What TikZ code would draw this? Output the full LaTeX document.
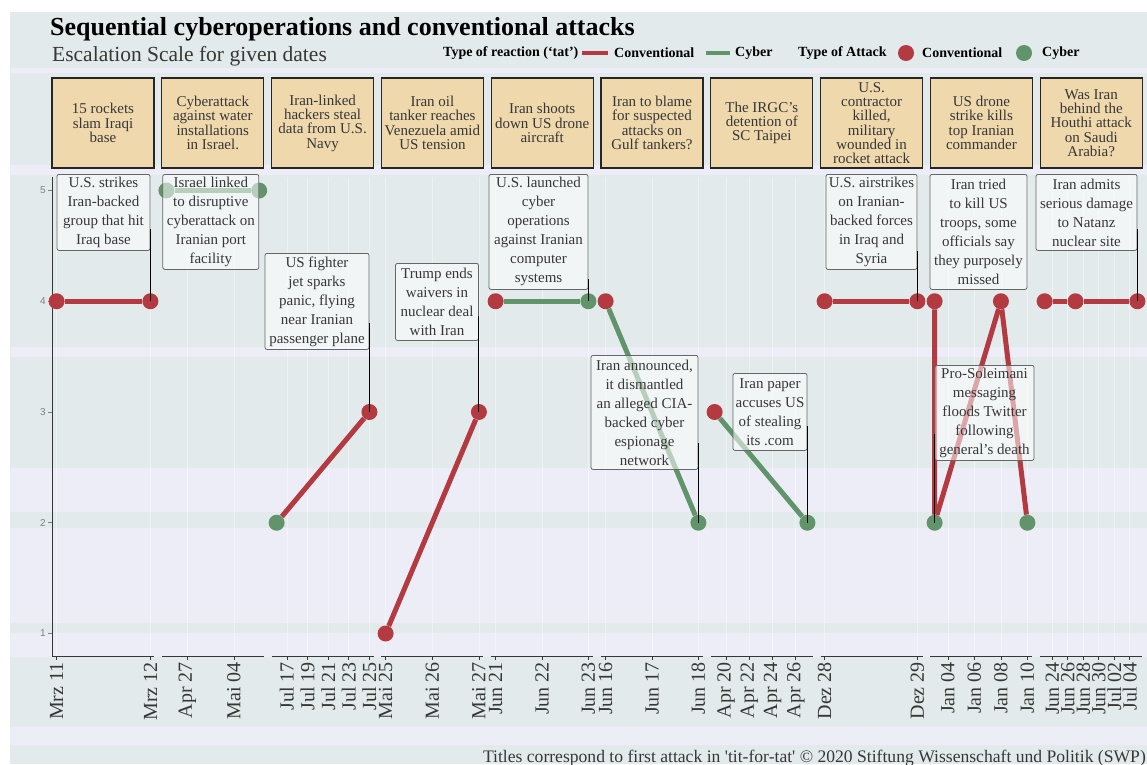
\documentclass[tikz,border=0pt]{standalone}
\usepackage{fontspec}
\setmainfont{Liberation Serif}
\setsansfont{Liberation Sans}
\definecolor{convred}{RGB}{178,58,64}
\definecolor{cybgreen}{RGB}{98,148,108}
\definecolor{headtan}{RGB}{238,216,172}
\definecolor{bga}{RGB}{226,234,236}
\definecolor{bgb}{RGB}{237,237,248}
\definecolor{inkgray}{RGB}{55,55,55}
\tikzset{
  conv/.style={draw=convred, line width=5pt},
  cyb/.style={draw=cybgreen, line width=5pt},
  cdot/.style={circle, fill=convred, minimum size=16pt, inner sep=0pt},
  gdot/.style={circle, fill=cybgreen, minimum size=16pt, inner sep=0pt},
  headbox/.style={draw=black!85, line width=1.3pt, fill=headtan, minimum width=102pt, minimum height=90pt,
    align=center, inner sep=1pt, text=inkgray, font=\fontsize{15}{14.3}\selectfont},
  labbox/.style={draw=black!60, line width=0.8pt, fill=white, fill opacity=0.55, text opacity=1,
    rounded corners=2pt, align=center, inner sep=2pt, text=inkgray, font=\fontsize{15}{19}\selectfont},
  seg/.style={draw=black, line width=0.9pt},
  datelab/.style={rotate=90, anchor=east, inner sep=0pt, text=inkgray, font=\fontsize{20}{20}\selectfont},
  legtext/.style={anchor=west, inner sep=0pt, font=\bfseries\fontsize{14}{14}\selectfont},
}
\begin{document}
\begin{tikzpicture}[x=1pt, y=-1pt]
	\useasboundingbox (0,0) rectangle (1147,764);
	%background bands
	\foreach \ya/\yb/\c in {12/68/bga, 68/73/bgb, 73/165/bga, 165/175/bgb, 175/347/bga, 347/357/bgb,
		357/468/bga, 468/512/bgb, 512/528/bga, 528/623/bgb, 623/633/bga, 633/657/bgb,
		657/727/bga, 727/745/bgb, 745/764/bga}
		\fill[\c] (10,\ya) rectangle (1147,\yb);

	%titles
	\node[anchor=base west, inner sep=0pt, font=\bfseries\fontsize{26}{26}\selectfont] (title) at (50,35)
		{Sequential cyberoperations and conventional attacks};
	\node[anchor=base west, inner sep=0pt, text=inkgray, font=\fontsize{21.5}{21.5}\selectfont] (subtitle) at (52,61)
		{Escalation Scale for given dates};

	%legend
	\node[legtext] (legR) at (443,53) {Type of reaction (`tat')};
	\draw[conv, line width=4pt] (582,53) -- (608,53);
	\node[legtext] (legRc) at (614,53) {Conventional};
	\draw[cyb, line width=4pt] (706,53) -- (730,53);
	\node[legtext] (legRg) at (735,53) {Cyber};
	\node[legtext] (legA) at (798,53) {Type of Attack};
	\node[cdot] (legAcdot) at (906,53) {};
	\node[legtext] (legAc) at (922,53) {Conventional};
	\node[gdot] (legAgdot) at (1024,53) {};
	\node[legtext] (legAg) at (1042,53) {Cyber};

	%date grid, ticks and labels
	\foreach \px/\dt [count=\k] in {56.6/Mrz 11, 150.4/Mrz 12, 187.5/Apr 27, 233.9/Mai 04,
		286.9/Jul 17, 307.5/Jul 19, 328.2/Jul 21, 348.8/Jul 23, 369.4/Jul 25,
		385.6/Mai 25, 432.3/Mai 26, 478.9/Mai 27, 495.6/Jun 21, 542/Jun 22, 588.4/Jun 23,
		605.6/Jun 16, 652/Jun 17, 698.4/Jun 18, 726.2/Apr 20, 749.4/Apr 22, 772.6/Apr 24, 795.8/Apr 26,
		824.6/Dez 28, 917.4/Dez 29, 947.9/Jan 04, 974.4/Jan 06, 1000.9/Jan 08, 1027.4/Jan 10,
		1052.3/Jun 24, 1067.8/Jun 26, 1083.3/Jun 28, 1098.7/Jun 30, 1114.2/Jul 02, 1129.7/Jul 04}
	{
		\draw[white, opacity=0.4, line width=0.8pt] (\px,177) -- (\px,656);
		\draw[inkgray, line width=0.8pt] (\px,656) -- (\px,660);
		\node[datelab] (date\k) at (\px,662) {\dt};
	}

	%axes
	\foreach \i in {0,...,9}
		\draw[inkgray, line width=1pt] ({52+109.8*\i},656) -- ({154+109.8*\i},656);
	\draw[inkgray, line width=1pt] (52,177) -- (52,656);
	\foreach \v/\yy in {1/633.5, 2/522.75, 3/412, 4/301.25, 5/190.5}
	{
		\draw[gray, line width=0.8pt] (48,\yy) -- (52,\yy);
		\node[anchor=east, inner sep=1pt, text=gray, font=\sffamily\fontsize{10}{10}\selectfont] (ytick\v) at (47,\yy) {\v};
	}

	%panel titles
	\foreach \i/\hd in {0/{15 rockets\\slam Iraqi\\base}, 1/{Cyberattack\\against water\\installations\\in Israel.},
		2/{Iran-linked\\hackers steal\\data from U.S.\\Navy}, 3/{Iran oil\\tanker reaches\\Venezuela amid\\US tension},
		4/{Iran shoots\\down US drone\\aircraft}, 5/{Iran to blame\\for suspected\\attacks on\\Gulf tankers?},
		6/{The IRGC's\\detention of\\SC Taipei}, 7/{U.S.\\contractor\\killed,\\military\\wounded in\\rocket attack},
		8/{US drone\\strike kills\\top Iranian\\commander}, 9/{Was Iran\\behind the\\Houthi attack\\on Saudi\\Arabia?}}
		\node[headbox] (h\i) at ({103+109.8*\i},123) {\hd};

	%tit-for-tat pairs
	\node[cdot] (p1a) at (56.6,301.25) {};
	\node[cdot] (p1b) at (150.4,301.25) {};
	\draw[conv] (p1a) -- (p1b);
	\node[gdot] (p2a) at (166.4,190.5) {};
	\node[gdot] (p2b) at (259.2,190.5) {};
	\draw[cyb] (p2a) -- (p2b);
	\node[gdot] (p3a) at (276.6,522.75) {};
	\node[cdot] (p3b) at (369.4,412) {};
	\draw[conv] (p3a) -- (p3b);
	\node[cdot] (p4a) at (385.6,633.5) {};
	\node[cdot] (p4b) at (478.9,412) {};
	\draw[conv] (p4a) -- (p4b);
	\node[cdot] (p5a) at (495.6,301.25) {};
	\node[gdot] (p5b) at (588.4,301.25) {};
	\draw[cyb] (p5a) -- (p5b);
	\node[cdot] (p6a) at (605.6,301.25) {};
	\node[gdot] (p6b) at (698.4,522.75) {};
	\draw[cyb] (p6a) -- (p6b);
	\node[cdot] (p7a) at (714.6,412) {};
	\node[gdot] (p7b) at (807.4,522.75) {};
	\draw[cyb] (p7a) -- (p7b);
	\node[cdot] (p8a) at (824.6,301.25) {};
	\node[cdot] (p8b) at (917.4,301.25) {};
	\draw[conv] (p8a) -- (p8b);
	\node[cdot] (p9a) at (934.6,301.25) {};
	\node[gdot] (p9b) at (934.6,522.75) {};
	\node[cdot] (p9c) at (1000.9,301.25) {};
	\node[gdot] (p9d) at (1027.4,522.75) {};
	\draw[conv] (p9a) -- (p9b) -- (p9c) -- (p9d);
	\node[cdot] (p10a) at (1044.6,301.25) {};
	\node[cdot] (p10b) at (1075.5,301.25) {};
	\node[cdot] (p10c) at (1137.4,301.25) {};
	\draw[conv] (p10a) -- (p10b) -- (p10c);

	%reaction labels
	\node[labbox, anchor=north east, minimum width=93pt, minimum height=76pt] (l1) at (150.4,174)
		{U.S. strikes\\Iran-backed\\group that hit\\Iraq base};
	\node[labbox, anchor=north east, minimum width=96pt, minimum height=95pt] (l2) at (259.2,174)
		{Israel linked\\to disruptive\\cyberattack on\\Iranian port\\facility};
	\node[labbox, anchor=north east, minimum width=104pt, minimum height=96pt] (l3) at (369.4,253)
		{US fighter\\jet sparks\\panic, flying\\near Iranian\\passenger plane};
	\node[labbox, anchor=north east, minimum width=83pt, minimum height=77pt] (l4) at (478.9,263)
		{Trump ends\\waivers in\\nuclear deal\\with Iran};
	\node[labbox, anchor=north east, minimum width=99pt, minimum height=115pt] (l5) at (588.4,174)
		{U.S. launched\\cyber\\operations\\against Iranian\\computer\\systems};
	\node[labbox, anchor=north east, minimum width=107pt, minimum height=114pt] (l6) at (698.4,355)
		{Iran announced,\\it dismantled\\an alleged CIA-\\backed cyber\\espionage\\network};
	\node[labbox, anchor=north east, minimum width=74pt, minimum height=77pt] (l7) at (807.4,373)
		{Iran paper\\accuses US\\of stealing\\its .com};
	\node[labbox, anchor=north east, minimum width=91pt, minimum height=95pt] (l8) at (917.4,174)
		{U.S. airstrikes\\on Iranian-\\backed forces\\in Iraq and\\Syria};
	\node[labbox, anchor=north east, minimum width=97pt, minimum height=115pt] (l9a) at (1027.4,174)
		{Iran tried\\to kill US\\troops, some\\officials say\\they purposely\\missed};
	\node[labbox, anchor=north west, minimum width=99pt, minimum height=95pt] (l9b) at (934.6,365)
		{Pro-Soleimani\\messaging\\floods Twitter\\following\\general's death};
	\node[labbox, anchor=north east, minimum width=101pt, minimum height=76pt] (l10) at (1137.4,174)
		{Iran admits\\serious damage\\to Natanz\\nuclear site};

	%label segments
	\draw[seg] ([yshift=22pt]l1.south east) -- (p1b.center);
	\draw[seg] ([yshift=27pt]l3.south east) -- (p3b.center);
	\draw[seg] ([yshift=25pt]l4.south east) -- (p4b.center);
	\draw[seg] ([yshift=11pt]l5.south east) -- (p5b.center);
	\draw[seg] ([yshift=27pt]l6.south east) -- (p6b.center);
	\draw[seg] ([yshift=25pt]l7.south east) -- (p7b.center);
	\draw[seg] ([yshift=19pt]l8.south east) -- (p8b.center);
	\draw[seg] ([yshift=27pt]l9b.south west) -- (p9b.center);
	\draw[seg] ([yshift=22pt]l10.south east) -- (p10c.center);

	%source
	\node[anchor=base east, inner sep=0pt, text=inkgray, font=\fontsize{17.6}{17.6}\selectfont] (caption) at (1146,762)
		{Titles correspond to first attack in \textquotesingle tit-for-tat\textquotesingle{} \textcopyright{} 2020 Stiftung Wissenschaft und Politik (SWP)};
\end{tikzpicture}
\end{document}
